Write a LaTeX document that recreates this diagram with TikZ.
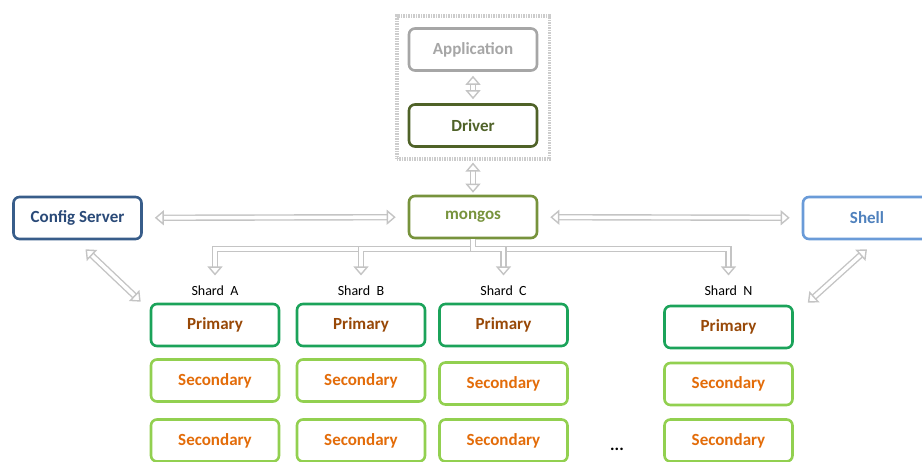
\documentclass[tikz,border=0pt]{standalone}
\usepackage{fontspec}
\setmainfont{Carlito}
\usetikzlibrary{arrows.meta,fit,positioning}
\definecolor{appgray}{HTML}{A6A6A6}
\definecolor{drvgreen}{HTML}{4F6228}
\definecolor{mgsgreen}{HTML}{77933C}
\definecolor{cfgblue}{HTML}{385D8A}
\definecolor{cfgtext}{HTML}{2A4A78}
\definecolor{shlblue}{HTML}{6A9BD8}
\definecolor{shltext}{HTML}{4F81BD}
\definecolor{primgreen}{HTML}{1BA35A}
\definecolor{primtext}{HTML}{984807}
\definecolor{secgreen}{HTML}{92D050}
\definecolor{sectext}{HTML}{E36C09}
\definecolor{pipegray}{HTML}{C4C4C4}
\tikzset{
  mgbox/.style={draw, fill=white, rounded corners=6pt, line width=2.6pt,
    minimum width=128pt, minimum height=42pt, inner sep=2pt,
    font=\fontsize{17}{19}\selectfont\bfseries},
  mgapp/.style={mgbox, draw=appgray, text=appgray},
  mgdriver/.style={mgbox, draw=drvgreen, text=drvgreen},
  mgrouter/.style={mgbox, draw=mgsgreen, text=mgsgreen},
  mgconfig/.style={mgbox, draw=cfgblue, text=cfgtext},
  mgshell/.style={mgbox, draw=shlblue, text=shltext},
  mgprimary/.style={mgbox, draw=primgreen, text=primtext},
  mgsecondary/.style={mgbox, draw=secgreen, text=sectext},
  mgshard/.style={font=\fontsize{14}{16}\selectfont, inner sep=1pt},
  mgframe/.style={draw=black!20, line width=3.6pt, dash pattern=on 1.4pt off 1.1pt,
    inner sep=11pt},
  mgpipe/.style={draw=pipegray, line width=1.4pt, double=white,
    double distance=3.6pt},
  mgboth/.style={mgpipe, {Triangle[open, length=9pt, width=15pt]}-{Triangle[open, length=9pt, width=15pt]}},
  mgdown/.style={mgpipe, -{Triangle[open, length=9pt, width=15pt]}}
}
\begin{document}
\begin{tikzpicture}[x=1pt, y=-1pt]
  \useasboundingbox (0,0) rectangle (922,462);

  % client side
  \node[mgapp] (app) at (473,49.5) {Application};
  \node[mgdriver] (driver) at (473,125.5) {Driver};
  \node[mgframe, fit=(app)(driver)] (client) {};

  % routing layer
  \node[mgrouter] (mongos) at (473,217) {mongos};
  \node[mgconfig] (config) at (77.5,218) {Config Server};
  \node[mgshell] (shell) at (867,218) {Shell};

  % shards
  \node[mgprimary] (primA) at (215,325) {Primary};
  \node[mgsecondary] (secA1) at (215,380.5) {Secondary};
  \node[mgsecondary] (secA2) at (215,440.5) {Secondary};

  \node[mgprimary] (primB) at (361,325) {Primary};
  \node[mgsecondary] (secB1) at (361,380.5) {Secondary};
  \node[mgsecondary] (secB2) at (361,440.5) {Secondary};

  \node[mgprimary] (primC) at (503.5,325) {Primary};
  \node[mgsecondary] (secC1) at (503.5,383.5) {Secondary};
  \node[mgsecondary] (secC2) at (503.5,440.5) {Secondary};

  \node[mgprimary] (primN) at (728.5,327) {Primary};
  \node[mgsecondary] (secN1) at (728.5,384) {Secondary};
  \node[mgsecondary] (secN2) at (728.5,440.5) {Secondary};

  \node[mgshard, above=6pt of primA] (lblA) {Shard\ \ A};
  \node[mgshard, above=6pt of primB] (lblB) {Shard\ \ B};
  \node[mgshard, above=6pt of primC] (lblC) {Shard\ \ C};
  \node[mgshard, above=8pt of primN] (lblN) {Shard\ \ N};

  \node[font=\fontsize{17}{19}\selectfont\bfseries] (dots) at (617,449) {...};

  % connectors
  \draw[mgboth, shorten <=4pt, shorten >=4pt] (app) -- (driver);
  \draw[mgboth, shorten <=2pt, shorten >=2pt] (client) -- (mongos);
  \draw[mgboth, shorten <=12pt, shorten >=12pt] (config) -- (mongos);
  \draw[mgboth, shorten <=12pt, shorten >=12pt] (mongos) -- (shell);
  \draw[mgboth] ([xshift=8pt, yshift=-9pt]config.south)
    -- ([xshift=-9pt, yshift=1pt]primA.north west);
  \draw[mgboth] ([yshift=-9pt]shell.south)
    -- ([xshift=14pt, yshift=2pt]primN.north east);

  \draw[mgdown, shorten >=9pt] (mongos.south) -- ++(0,10) -| (lblA.north);
  \draw[mgdown, shorten >=9pt] (mongos.south) -- ++(0,10) -| (lblN.north);
  \draw[mgdown, shorten >=9pt] (mongos.south) -- ++(0,10) -| (lblB.north);
  \draw[mgdown, shorten >=9pt] (mongos.south) -- ++(0,10) -| (lblC.north);
\end{tikzpicture}
\end{document}
